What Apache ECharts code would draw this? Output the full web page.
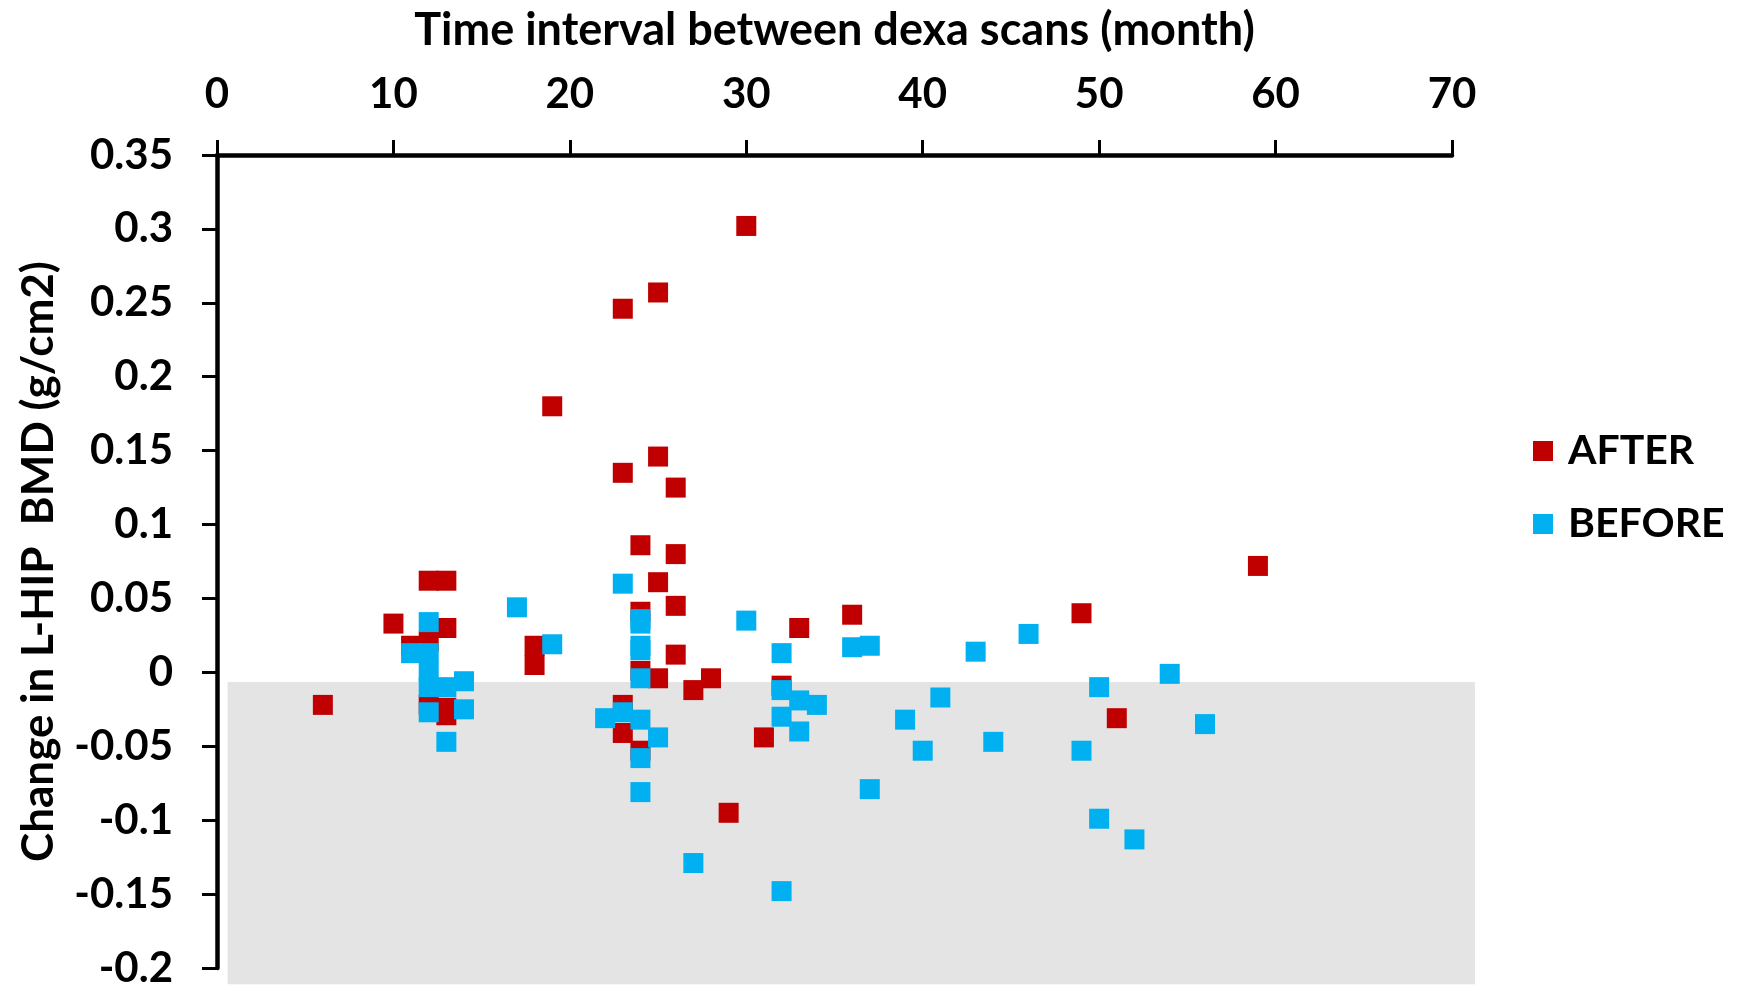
<!DOCTYPE html>
<html>
<head>
<meta charset="utf-8">
<script src="https://cdn.jsdelivr.net/npm/echarts@6/dist/echarts.min.js"></script>
<style>
html,body{margin:0;padding:0;background:#fff;}
#main{width:1737px;height:989px;}
</style>
</head>
<body>
<div id="main"></div>
<script>
// [months, change in BMD]
var afterData = [
	[6,-0.022],[10,0.033],[11,0.018],[12,0.021],[12,0.062],[13,0.062],[13,0.030],
	[12,-0.022],[13,-0.024],[13,-0.029],[18,0.018],[18,0.005],[19,0.180],
	[23,0.246],[25,0.257],[30,0.302],[23,0.135],[25,0.146],[26,0.125],
	[24,0.086],[26,0.080],[25,0.061],[26,0.045],[24,0.041],[26,0.012],
	[24,0.001],[25,-0.004],[28,-0.004],[27,-0.012],[32,-0.009],[23,-0.022],
	[23,-0.041],[24,-0.053],[29,-0.095],[31,-0.044],[33,0.030],[36,0.039],
	[49,0.040],[59,0.072],[51,-0.031]
];
var beforeData = [
	[11,0.013],[12,0.013],[12,0.034],[12,0.000],[12,-0.010],[13,-0.010],[14,-0.006],
	[12,-0.027],[14,-0.025],[13,-0.047],[17,0.044],[19,0.019],[23,0.060],
	[24,0.036],[24,0.033],[24,0.018],[24,0.015],[24,-0.004],[23,-0.027],
	[22,-0.031],[24,-0.032],[25,-0.044],[24,-0.058],[24,-0.081],[27,-0.129],
	[30,0.035],[32,0.013],[32,-0.012],[32,-0.030],[32,-0.148],[33,-0.019],
	[34,-0.022],[33,-0.040],[36,0.017],[37,0.018],[37,-0.079],[39,-0.032],
	[40,-0.053],[41,-0.017],[43,0.014],[44,-0.047],[46,0.026],[49,-0.053],
	[50,-0.010],[50,-0.099],[52,-0.113],[54,-0.001],[56,-0.035]
];
var seriesNames = ['AFTER', 'BEFORE'];
// grey band behind the negative values (data units)
var shadeX = [0.6, 71.3];
var shadeY = [-0.0065, -0.211];

var font = 'Lato, "Open Sans", sans-serif';
var myChart = echarts.init(document.getElementById('main'));

var option = {
	animation: false,
	backgroundColor: '#fff',
	textStyle: { fontFamily: font },
	grid: { left: 217, right: 285, top: 152, bottom: 19 },
	legend: {
		data: seriesNames,
		orient: 'vertical',
		left: 1528,
		top: 422,
		itemWidth: 20,
		itemHeight: 20,
		itemGap: 25,
		icon: 'rect',
		textStyle: {
			fontFamily: font, fontSize: 41, fontWeight: 'bold', color: '#000',
			lineHeight: 48, padding: [0, 0, 0, 10]
		}
	},
	xAxis: {
		type: 'value',
		position: 'top',
		min: 0, max: 70, interval: 10,
		name: 'Time interval between dexa scans (month)',
		nameLocation: 'middle',
		nameGap: 100,
		nameTextStyle: { fontFamily: font, fontSize: 45, fontWeight: 'bold', color: '#000', lineHeight: 50 },
		axisLine: { onZero: false, lineStyle: { color: '#000', width: 4.5 } },
		axisTick: { length: 15, lineStyle: { color: '#000', width: 3 } },
		axisLabel: { fontFamily: font, fontSize: 42, fontWeight: 'bold', color: '#000', margin: 40 },
		splitLine: { show: false }
	},
	yAxis: {
		type: 'value',
		min: -0.2, max: 0.35, interval: 0.05,
		name: 'Change in L-HIP  BMD (g/cm2)',
		nameLocation: 'middle',
		nameGap: 153,
		nameTextStyle: { fontFamily: font, fontSize: 44, fontWeight: 'bold', color: '#000', lineHeight: 50 },
		axisLine: { onZero: false, lineStyle: { color: '#000', width: 4.5 } },
		axisTick: { length: 15, lineStyle: { color: '#000', width: 3 } },
		axisLabel: { fontFamily: font, fontSize: 42, fontWeight: 'bold', color: '#000', margin: 44 },
		splitLine: { show: false }
	},
	series: [
		{
			name: 'AFTER',
			type: 'scatter',
			symbol: 'rect',
			symbolSize: 20,
			z: 2,
			itemStyle: { color: '#C00000', opacity: 1 },
			data: afterData
		},
		{
			name: 'BEFORE',
			type: 'scatter',
			symbol: 'rect',
			symbolSize: 20,
			z: 3,
			itemStyle: { color: '#00B0F0', opacity: 1 },
			data: beforeData
		}
	]
};
myChart.setOption(option);

// shaded band, placed through the axes' own scales
var p1 = myChart.convertToPixel({ gridIndex: 0 }, [shadeX[0], shadeY[0]]);
var p2 = myChart.convertToPixel({ gridIndex: 0 }, [shadeX[1], shadeY[1]]);
myChart.setOption({
	graphic: [{
		type: 'rect',
		silent: true,
		z: 0,
		shape: { x: p1[0], y: p1[1], width: p2[0] - p1[0], height: p2[1] - p1[1] },
		style: { fill: '#e4e4e4' }
	}]
});
</script>
</body>
</html>
